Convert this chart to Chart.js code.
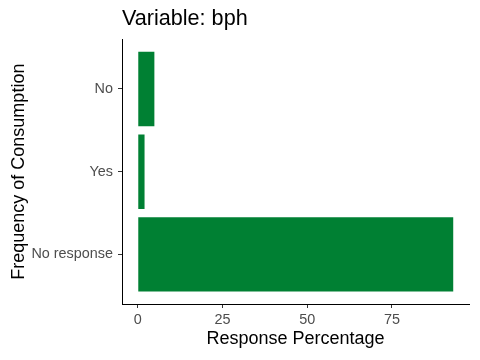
<!DOCTYPE html>
<html>
<head>
<meta charset="utf-8">
<script src="https://cdn.jsdelivr.net/npm/chart.js@4"></script>
<style>
  body { margin: 0; background: #fff; }
  #wrap { width: 480px; height: 360px; }
</style>
</head>
<body>
<div id="wrap"><canvas id="myChart" width="480" height="360"></canvas></div>
<script>
// Datos del gráfico (de arriba hacia abajo)
const categories = ['No', 'Yes', 'No response'];
const percentages = [4.9, 2.0, 93.1];
const xTicks = [0, 25, 50, 75];

const fontFamily = '"Liberation Sans", Arial, sans-serif';

// posición de cada categoría en el eje y (1 = arriba)
const points = categories.map((c, i) => ({ x: percentages[i], y: i + 1 }));

const ctx = document.getElementById('myChart').getContext('2d');
const chart = new Chart(ctx, {
  type: 'bar',
  data: {
    datasets: [{
      label: 'Response Percentage',
      data: points,
      backgroundColor: '#008033',
      borderWidth: 0,
      barPercentage: 0.9,
      categoryPercentage: 1
    }]
  },
  options: {
    indexAxis: 'y',
    responsive: false,
    devicePixelRatio: 1,
    animation: false,
    layout: { padding: { top: 0, right: 11, bottom: 0, left: 0 } },
    plugins: {
      legend: { display: false },
      tooltip: { enabled: false },
      title: {
        display: true,
        text: 'Variable: bph',
        align: 'start',
        fullSize: false,
        color: '#000',
        font: { family: fontFamily, size: 21.6, weight: 'normal' },
        padding: { top: 6, bottom: 7.4 }
      }
    },
    scales: {
      x: {
        type: 'linear',
        min: -4.655,
        max: 97.755,
        afterBuildTicks: (scale) => { scale.ticks = xTicks.map(v => ({ value: v })); },
        afterFit: (scale) => { scale.height = 56; },
        grid: { drawOnChartArea: false, drawTicks: true, tickLength: 4, color: '#333333' },
        border: { display: true, color: '#000', width: 1 },
        ticks: {
          color: '#4D4D4D',
          padding: 3,
          font: { family: fontFamily, size: 14.4 }
        },
        title: {
          display: true,
          text: 'Response Percentage',
          color: '#000',
          font: { family: fontFamily, size: 18 },
          padding: { top: 0, bottom: 10 }
        }
      },
      y: {
        type: 'linear',
        reverse: true,
        offset: false,
        min: 0.4,
        max: 3.6,
        afterBuildTicks: (scale) => { scale.ticks = categories.map((c, i) => ({ value: i + 1 })); },
        afterFit: (scale) => { scale.width = 122; },
        grid: { offset: false, drawOnChartArea: false, drawTicks: true, tickLength: 4, color: '#333333' },
        border: { display: true, color: '#000', width: 1 },
        ticks: {
          color: '#4D4D4D',
          padding: 5,
          font: { family: fontFamily, size: 14.4 },
          callback: (value) => categories[value - 1]
        },
        title: {
          display: true,
          text: 'Frequency of Consumption',
          color: '#000',
          font: { family: fontFamily, size: 18 },
          padding: { top: 8, bottom: 0 }
        }
      }
    }
  }
});
</script>
</body>
</html>
